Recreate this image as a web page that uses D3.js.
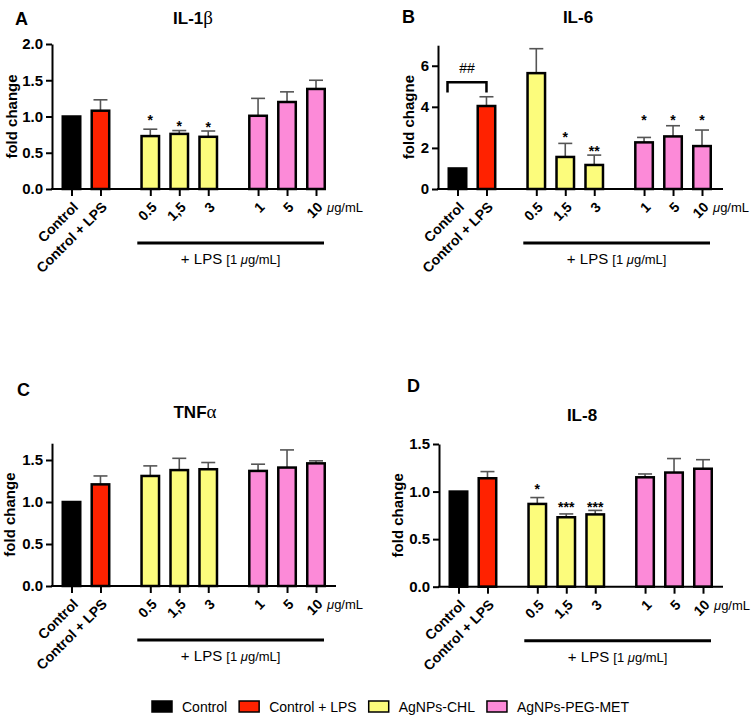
<!DOCTYPE html>
<html><head><meta charset="utf-8">
<script src="https://cdn.jsdelivr.net/npm/d3@7/dist/d3.min.js"></script>
<style>
body{margin:0;background:#fff;}
svg{display:block;font-family:Arial,"Liberation Sans",sans-serif;}
</style></head>
<body><svg id="chart" width="753" height="719"></svg>
<script>
// ---------- DATA ----------
const categories = ["Control","Control + LPS","0.5","1,5","3","1","5","10"];
const seriesOfBar = [0,1,2,2,2,3,3,3];           // legend series index for each bar
const blockOfBar  = [0,0,1,1,1,2,2,2];           // x block (gap between blocks)
const seriesNames = ["Control","Control + LPS","AgNPs-CHL","AgNPs-PEG-MET"];
const seriesColors = ["#000000","#ff2200","#fcfc7c","#fc8ad8"];

const il1bMean = [1.00,1.08,0.73,0.76,0.72,1.01,1.20,1.38];
const il1bErr  = [0,0.15,0.095,0.046,0.08,0.24,0.14,0.12];
const il6Mean  = [1.00,4.04,5.64,1.56,1.17,2.27,2.56,2.09];
const il6Err   = [0,0.45,1.19,0.66,0.48,0.24,0.52,0.78];
const tnfMean  = [1.00,1.21,1.31,1.38,1.39,1.37,1.41,1.46];
const tnfErr   = [0,0.10,0.12,0.14,0.08,0.08,0.21,0.03];
const il8Mean  = [1.00,1.14,0.87,0.73,0.76,1.15,1.20,1.24];
const il8Err   = [0,0.07,0.067,0.035,0.042,0.035,0.147,0.095];

const il1bTicks = [0,0.5,1.0,1.5,2.0];
const il6Ticks  = [0,2,4,6];
const tnfTicks  = [0,0.5,1.0,1.5];
const il8Ticks  = [0,0.5,1.0,1.5];

// significance marks: [bar index, label, value level]
const il1bSig = [[2,"*",0.98],[3,"*",0.91],[4,"*",0.89]];
const il6Sig  = [[3,"*",2.63],[4,"**",1.95],[5,"*",3.49],[6,"*",3.49],[7,"*",3.49]];
const tnfSig  = [];
const il8Sig  = [[2,"*",1.05],[3,"***",0.86],[4,"***",0.86]];
// bracket (Control vs Control + LPS) in panel B: [from, to, top level, leg level, label, label level]
const il6Bracket = [0,1,5.2,4.7,"##",5.89];

// ---------- LAYOUT ----------
const panels = [
  {letter:"A", t1:"IL-1", t2:"β", ylab:"fold change", mean:il1bMean, err:il1bErr, ticks:il1bTicks, fmt:".1f", ymax:2.0, sig:il1bSig,
   left:52, right:325, y0:189, ytop:44, lx:15, ly:25, tx:193, ty:24, labOff:35},
  {letter:"B", t1:"IL-6", t2:"", ylab:"fold chagne", mean:il6Mean, err:il6Err, ticks:il6Ticks, fmt:"d", ymax:7, sig:il6Sig, bracket:il6Bracket,
   left:438, right:723, y0:189, ytop:45.2, lx:402, ly:23, tx:578, ty:23, labOff:24},
  {letter:"C", t1:"TNF", t2:"α", ylab:"fold change", mean:tnfMean, err:tnfErr, ticks:tnfTicks, fmt:".1f", ymax:1.7, sig:tnfSig,
   left:52, right:336, y0:586, ytop:443.2, lx:17, ly:396, tx:195, ty:418, labOff:37},
  {letter:"D", t1:"IL-8", t2:"", ylab:"fold change", mean:il8Mean, err:il8Err, ticks:il8Ticks, fmt:".1f", ymax:1.5, sig:il8Sig,
   left:439, right:723, y0:586.7, ytop:444, lx:407, ly:392, tx:582, ty:421, labOff:36}
];

const svg = d3.select("#chart");
const gapExtra = 0.72;
const slotPos = categories.map((c,i)=> i + gapExtra*blockOfBar[i]);
const maxPos = d3.max(slotPos);
const barW = 17.5;

panels.forEach(p=>{
  const g = svg.append("g");
  const first = p.left + 19.5;
  const x = d3.scaleLinear().domain([0,maxPos]).range([first, first+244.5]);
  const y = d3.scaleLinear().domain([0,p.ymax]).range([p.y0,p.ytop]);

  // panel letter & title
  g.append("text").attr("x",p.lx).attr("y",p.ly).attr("font-size",18).attr("font-weight","bold").text(p.letter);
  const tt = g.append("text").attr("x",p.tx).attr("y",p.ty).attr("text-anchor","middle").attr("font-size",17).attr("font-weight","bold");
  tt.append("tspan").text(p.t1);
  if(p.t2) tt.append("tspan").attr("font-family","'Liberation Serif','Times New Roman',serif").attr("font-weight","normal").attr("font-size",19).text(p.t2);

  // y axis
  const ya = g.append("g").attr("transform",`translate(${p.left},0)`)
    .call(d3.axisLeft(y).tickValues(p.ticks).tickFormat(d3.format(p.fmt)).tickSize(6).tickSizeOuter(0).tickPadding(3));
  ya.select(".domain").attr("stroke","#000").attr("stroke-width",2);
  ya.selectAll(".tick line").attr("stroke","#000").attr("stroke-width",2);
  ya.selectAll(".tick text").attr("font-size",15).attr("font-weight","bold").attr("fill","#000").attr("font-family","Arial,'Liberation Sans',sans-serif");

  g.append("text").attr("transform",`translate(${p.left-p.labOff},${(p.y0+p.ytop)/2}) rotate(-90)`)
    .attr("text-anchor","middle").attr("font-size",15).attr("font-weight","bold").text(p.ylab);

  // bars
  const bars = g.append("g");
  categories.forEach((c,i)=>{
    const cx = x(slotPos[i]);
    const v = p.mean[i], e = p.err[i];
    if(e>0){
      bars.append("line").attr("x1",cx).attr("x2",cx).attr("y1",y(v)).attr("y2",y(v+e)).attr("stroke","#555").attr("stroke-width",1.6);
      bars.append("line").attr("x1",cx-7).attr("x2",cx+7).attr("y1",y(v+e)).attr("y2",y(v+e)).attr("stroke","#555").attr("stroke-width",1.6);
    }
    bars.append("rect").attr("x",cx-barW/2).attr("width",barW).attr("y",y(v)).attr("height",p.y0-y(v))
      .attr("fill",seriesColors[seriesOfBar[i]]).attr("stroke","#000").attr("stroke-width",2.5);
  });

  // x axis
  g.append("line").attr("x1",p.left-1).attr("x2",p.right).attr("y1",p.y0).attr("y2",p.y0).attr("stroke","#000").attr("stroke-width",2);
  const xa = g.append("g").attr("transform",`translate(0,${p.y0})`)
    .call(d3.axisBottom(x).tickValues(slotPos).tickFormat((d,i)=>categories[i]).tickSize(7).tickSizeOuter(0));
  xa.select(".domain").remove();
  xa.selectAll(".tick line").attr("stroke","#000").attr("stroke-width",2);
  xa.selectAll(".tick text").attr("font-size",14).attr("font-weight","bold").attr("fill","#000")
    .attr("font-family","Arial,'Liberation Sans',sans-serif")
    .attr("text-anchor","end").attr("y",0).attr("dy",0)
    .attr("transform","translate(7,19) rotate(-45)");

  const lastX = x(maxPos);
  const um = g.append("text").attr("x",lastX+11).attr("y",p.y0+23).attr("font-size",13);
  um.append("tspan").attr("font-style","italic").text("μ");
  um.append("tspan").text("g/mL");

  // LPS line
  const lx1 = x(slotPos[2])-13, lx2 = x(maxPos)+8, ly = p.y0+54;
  g.append("line").attr("x1",lx1).attr("x2",lx2).attr("y1",ly).attr("y2",ly).attr("stroke","#000").attr("stroke-width",3);
  const lt = g.append("text").attr("x",(lx1+lx2)/2).attr("y",ly+21).attr("text-anchor","middle").attr("font-size",15);
  lt.append("tspan").text("+ LPS ");
  lt.append("tspan").attr("font-size",13).text("[1 ");
  lt.append("tspan").attr("font-size",13).attr("font-style","italic").text("μ");
  lt.append("tspan").attr("font-size",13).text("g/mL]");

  // significance
  p.sig.forEach(s=>{
    g.append("text").attr("x",x(slotPos[s[0]])).attr("y",y(s[2])+7.5).attr("text-anchor","middle")
      .attr("font-size",14).attr("font-weight","bold").text(s[1]);
  });
  if(p.bracket){
    const b = p.bracket;
    const bx1 = x(slotPos[b[0]])-10, bx2 = x(slotPos[b[1]]);
    g.append("path").attr("d",`M${bx1},${y(b[3])}V${y(b[2])}H${bx2}V${y(b[3])}`)
      .attr("fill","none").attr("stroke","#000").attr("stroke-width",2.5);
    g.append("text").attr("x",(bx1+bx2)/2).attr("y",y(b[5])+5).attr("text-anchor","middle").attr("font-size",14).text(b[4]);
  }
});

// legend
const leg = svg.append("g");
let lxp = 152;
seriesNames.forEach((n,i)=>{
  leg.append("rect").attr("x",lxp).attr("y",701).attr("width",20).attr("height",11)
    .attr("fill",seriesColors[i]).attr("stroke","#000").attr("stroke-width",1.5);
  const t = leg.append("text").attr("x",lxp+30).attr("y",712).attr("font-size",14).text(n);
  lxp += 30 + t.node().getComputedTextLength() + 12;
});
</script></body></html>
